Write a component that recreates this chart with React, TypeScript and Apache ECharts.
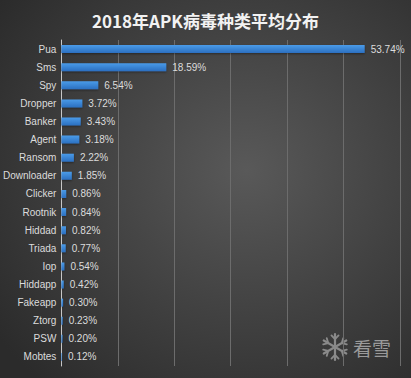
import React, { useEffect, useRef } from "react";
import * as echarts from "echarts";

const categories = [
  "Pua", "Sms", "Spy", "Dropper", "Banker", "Agent", "Ransom", "Downloader", "Clicker",
  "Rootnik", "Hiddad", "Triada", "Iop", "Hiddapp", "Fakeapp", "Ztorg", "PSW", "Mobtes",
];
const values = [
  53.74, 18.59, 6.54, 3.72, 3.43, 3.18, 2.22, 1.85, 0.86,
  0.84, 0.82, 0.77, 0.54, 0.42, 0.3, 0.23, 0.2, 0.12,
];
const title = "2018年APK病毒种类平均分布";
const watermark = "看雪";

function snowflake(cx: number, cy: number, r: number) {
  const els: any[] = [];
  const st = { stroke: "#8a8a8a", lineWidth: 2.2, lineCap: "round" };
  for (let i = 0; i < 6; i++) {
    const a = (Math.PI / 3) * i - Math.PI / 2;
    const ex = cx + r * Math.cos(a);
    const ey = cy + r * Math.sin(a);
    els.push({ type: "line", shape: { x1: cx, y1: cy, x2: ex, y2: ey }, style: st, silent: true });
    const bx = cx + r * 0.6 * Math.cos(a);
    const by = cy + r * 0.6 * Math.sin(a);
    for (const d of [-1, 1]) {
      const b = a + d * 0.75;
      els.push({
        type: "line",
        shape: { x1: bx, y1: by, x2: bx + r * 0.4 * Math.cos(b), y2: by + r * 0.4 * Math.sin(b) },
        style: { ...st, lineWidth: 1.8 },
        silent: true,
      });
    }
  }
  return els;
}

export default function App() {
  const ref = useRef<HTMLDivElement>(null);
  useEffect(() => {
    document.body.style.margin = "0";
    const chart = echarts.init(ref.current!, null, { renderer: "svg" });
    chart.setOption({
      animation: false,
      backgroundColor: {
        type: "radial",
        x: 0.6,
        y: 0.45,
        r: 0.75,
        colorStops: [
          { offset: 0, color: "#595959" },
          { offset: 1, color: "#2b2b2b" },
        ],
      },
      title: {
        text: title,
        left: "center",
        top: 7,
        textStyle: { color: "#f2f2f2", fontSize: 17, fontWeight: "bold", fontFamily: "Noto Sans CJK SC" },
      },
      grid: { left: 61, right: 11, top: 40, bottom: 12, containLabel: false },
      xAxis: {
        type: "value",
        min: 0,
        max: 60,
        interval: 10,
        axisLabel: { show: false },
        axisLine: { show: false },
        axisTick: { show: false },
        splitLine: { show: true, lineStyle: { color: "#6c6c6c", width: 1 } },
      },
      yAxis: {
        type: "category",
        data: categories,
        inverse: true,
        axisLine: { show: true, lineStyle: { color: "#c8c8c8", width: 1 } },
        axisTick: { show: false },
        axisLabel: { color: "#dcdcdc", fontSize: 10, margin: 5, fontFamily: "Liberation Sans" },
      },
      series: [
        {
          type: "bar",
          data: values,
          barWidth: 8,
          itemStyle: {
            color: {
              type: "linear",
              x: 0, y: 0, x2: 0, y2: 1,
              colorStops: [
                { offset: 0, color: "#4a9be8" },
                { offset: 1, color: "#2b6fc0" },
              ],
            },
            shadowColor: "rgba(0,0,0,0.4)",
            shadowBlur: 2,
            shadowOffsetY: 1,
          },
          label: {
            show: true,
            position: "right",
            distance: 6,
            color: "#dcdcdc",
            fontSize: 10,
            fontFamily: "Liberation Sans",
            formatter: (p: any) => p.value.toFixed(2) + "%",
          },
        },
      ],
      graphic: [
        ...snowflake(335, 347, 13),
        {
          type: "text",
          x: 353,
          y: 347,
          style: {
            text: watermark,
            fill: "#9a9a9a",
            fontSize: 19,
            fontFamily: "Noto Sans CJK SC",
            verticalAlign: "middle",
          },
          silent: true,
        },
      ],
    });
    return () => chart.dispose();
  }, []);
  return <div ref={ref} style={{ width: 411, height: 378 }} />;
}
